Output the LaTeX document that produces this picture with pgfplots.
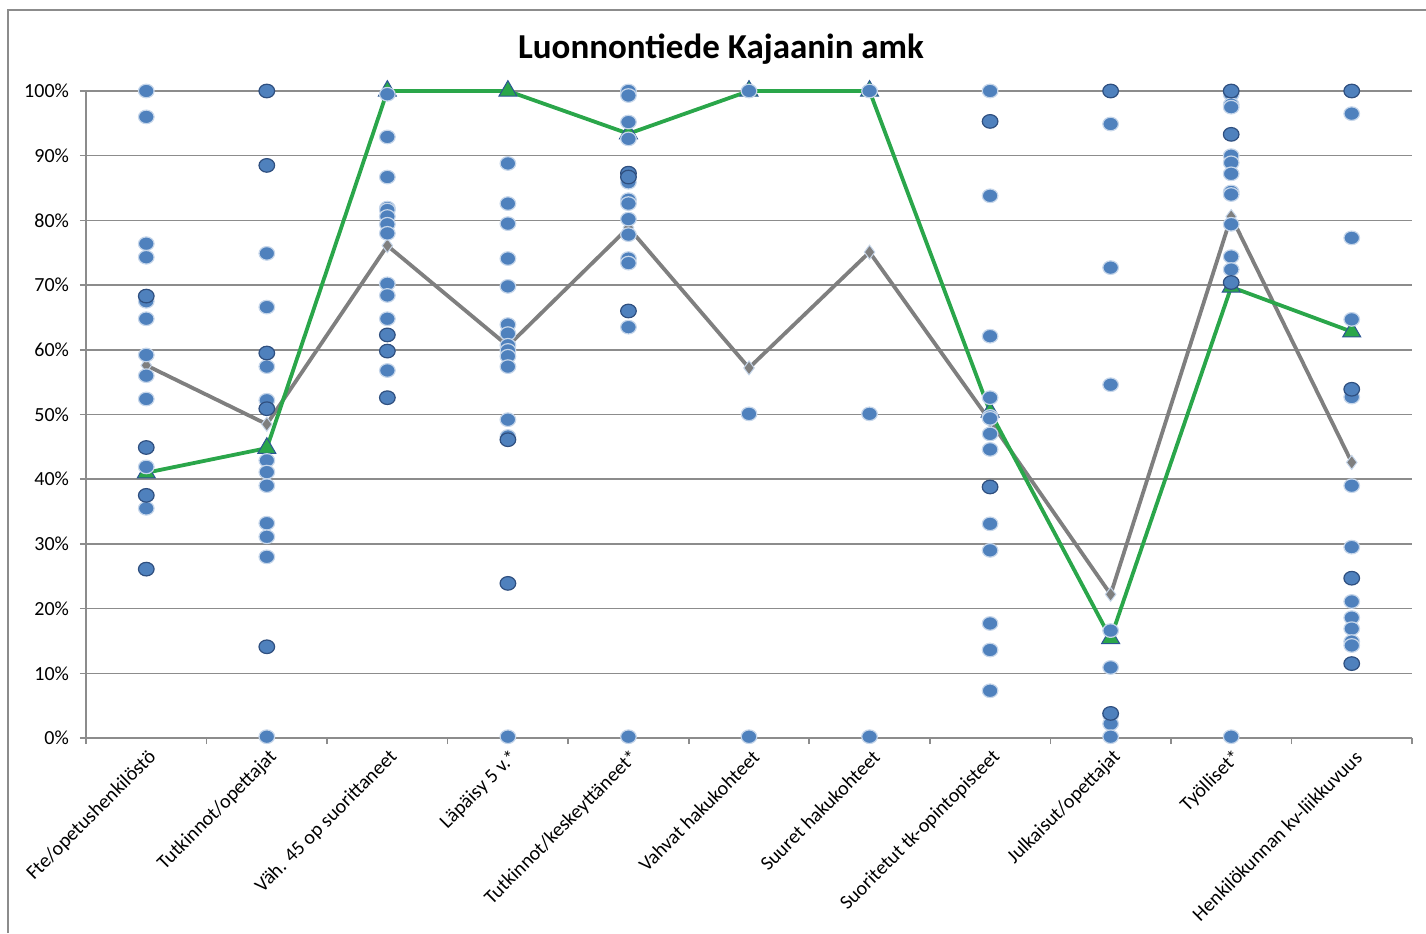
\documentclass[border=0pt]{standalone}
\usepackage{pgfplots}
\pgfplotsset{compat=1.18}
\usepackage{fontspec}
\setmainfont{Carlito}
\definecolor{dotfill}{HTML}{4F81BD}
\definecolor{dotdark}{HTML}{2F4F7F}
\definecolor{dotlight}{HTML}{C6D6EA}
\definecolor{grn}{RGB}{42,166,74}
\definecolor{gry}{HTML}{7F7F7F}
\definecolor{gridc}{HTML}{8C8C8C}
\definecolor{triedge}{HTML}{2C5593}
\begin{document}
\begin{tikzpicture}
\path[use as bounding box] (0,0) rectangle (713pt,466.5pt);
\draw[gridc, line width=0.8pt] (4pt,0) -- (4pt,461.5pt) -- (713pt,461.5pt);
\node[font=\fontsize{17.5}{21}\selectfont\bfseries] at (360.5pt,442pt) {Luonnontiede Kajaanin amk};
\begin{axis}[
  at={(43pt,97.5pt)}, anchor=south west,
  width=663pt, height=323.5pt, scale only axis,
  xmin=-0.5, xmax=10.5, ymin=0, ymax=100,
  axis x line*=bottom, axis y line*=left,
  axis line style={gridc, line width=0.8pt},
  every outer x axis line/.append style={-},
  every outer y axis line/.append style={-},
  xtick={0,...,10},
  xticklabels={Fte/opetushenkilöstö,Tutkinnot/opettajat,Väh. 45 op suorittaneet,Läpäisy 5 v.*,Tutkinnot/keskeyttäneet*,Vahvat hakukohteet,Suuret hakukohteet,Suoritetut tk-opintopisteet,Julkaisut/opettajat,Työlliset*,Henkilökunnan kv-liikkuvuus},
  major x tick style={draw=none},
  minor xtick={-0.5,0.5,...,10.5},
  minor x tick style={gridc, line width=0.8pt},
  minor tick length=3pt,
  tick align=outside,
  ytick={0,10,...,100},
  yticklabel={\pgfmathprintnumber{\tick}\%},
  /pgf/number format/assume math mode=true,
  major y tick style={gridc, line width=0.8pt},
  major tick length=3pt,
  ymajorgrids, grid style={gridc, line width=0.8pt},
  xticklabel style={rotate=45, anchor=east, font=\fontsize{10}{12}\selectfont, inner sep=1pt, yshift=-6pt, xshift=0pt},
  yticklabel style={font=\fontsize{10}{12}\selectfont, xshift=-2pt},
  clip=false,
]
\addplot[gry, line width=1.9pt, mark=diamond*, mark size=3.5pt, mark options={fill=gry, draw=dotlight, line width=0.5pt}] coordinates {
(0,57.6) (1,48.5) (2,76.1) (3,60.6) (4,78.9) (5,57.2) (6,75.1) (7,49.0) (8,22.2) (9,80.6) (10,42.6)};
\addplot[grn, line width=1.9pt, mark=triangle*, mark size=5.2pt, mark options={fill=grn, draw=triedge, line width=0.5pt}] coordinates {
(0,41.0) (1,44.8) (2,100) (3,100) (4,93.4) (5,100) (6,100) (7,50.4) (8,15.4) (9,69.7) (10,62.8)};
% light-bordered dots
\addplot[only marks, mark=*, mark size=3.4pt, mark options={fill=dotfill, draw=dotlight, line width=0.6pt, xscale=1.15}] coordinates {
(0,100) (0,96.0) (0,76.4) (0,74.3) (0,67.5) (0,64.8) (0,59.2) (0,56.0) (0,52.4) (0,41.9) (0,35.5)
(1,74.9) (1,66.6) (1,57.4) (1,52.2) (1,42.9) (1,41.1) (1,39.0) (1,33.2) (1,31.1) (1,28.0) (1,0.2)
(2,99.5) (2,92.9) (2,86.7) (2,81.9) (2,81.6) (2,80.6) (2,79.4) (2,78.0) (2,70.2) (2,68.4) (2,64.8) (2,56.8)
(3,88.8) (3,82.6) (3,79.5) (3,74.1) (3,69.8) (3,63.9) (3,62.5) (3,60.7) (3,59.9) (3,59.0) (3,57.4) (3,49.2) (3,46.6) (3,0.2)
(4,100) (4,99.3) (4,95.2) (4,92.6) (4,86.7) (4,85.9) (4,83.2) (4,82.6) (4,80.2) (4,77.8) (4,74.1) (4,73.4) (4,63.5) (4,0.2)
(5,100) (5,50.1) (5,0.2)
(6,100) (6,50.1) (6,0.2)
(7,100) (7,83.8) (7,62.1) (7,52.6) (7,49.7) (7,49.4) (7,47.0) (7,44.6) (7,33.1) (7,29.0) (7,17.7) (7,13.6) (7,7.3)
(8,94.9) (8,72.7) (8,54.6) (8,16.6) (8,10.9) (8,3.5) (8,2.2) (8,0.2)
(9,99.5) (9,97.9) (9,97.5) (9,90.0) (9,88.9) (9,87.2) (9,84.4) (9,84.0) (9,79.4) (9,74.4) (9,72.4) (9,0.2)
(10,96.5) (10,77.3) (10,64.7) (10,52.7) (10,39.0) (10,29.5) (10,21.1) (10,18.6) (10,16.9) (10,14.9) (10,14.3)
};
% dark-bordered dots
\addplot[only marks, mark=*, mark size=3.4pt, mark options={fill=dotfill, draw=dotdark, line width=0.6pt, xscale=1.15}] coordinates {
(0,68.3) (0,44.9) (0,37.5) (0,26.1)
(1,100) (1,88.5) (1,59.5) (1,50.9) (1,14.1)
(2,62.3) (2,59.8) (2,52.6)
(3,46.1) (3,23.9)
(4,87.3) (4,86.7) (4,66.0)
(7,95.3) (7,38.8)
(8,100) (8,3.8)
(9,100) (9,93.3) (9,70.4)
(10,100) (10,53.9) (10,24.7) (10,11.5)
};
\end{axis}
\end{tikzpicture}
\end{document}
